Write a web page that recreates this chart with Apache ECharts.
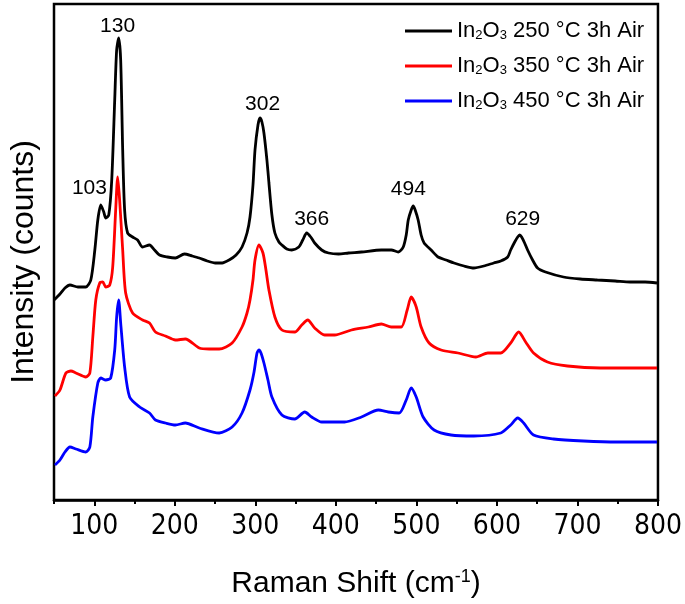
<!DOCTYPE html>
<html>
<head>
<meta charset="utf-8">
<script src="https://cdn.jsdelivr.net/npm/echarts@6/dist/echarts.min.js"></script>
<style>
html,body{margin:0;padding:0;background:#fff;}
#chart{width:685px;height:604px;}
</style>
</head>
<body>
<div id="chart"></div>
<script>
// ---- Data ----
const seriesNames = ['In2O3 250 °C 3h Air', 'In2O3 350 °C 3h Air', 'In2O3 450 °C 3h Air'];

const shift250 = [50,57.4,63.6,69.8,79.7,89.5,95.7,100.7,104.4,108.1,111.8,114.3,118,121.7,125.4,127.8,130.3,132.8,135.3,137.7,141.4,147.6,153.8,160,168.6,174.8,181,190.9,200.7,211.9,221.7,230.4,240.3,250.2,258.8,267.5,276.1,283.5,289.7,293.4,297.1,299.6,303.3,305.8,308.2,310.7,314.4,316.9,320.6,324.3,329.3,333,339.1,345.3,354,358.9,363.8,368.8,373.7,382.4,391,403.4,415.7,431.8,456.5,468.9,477.5,483.7,487.4,489.9,493.6,496.1,498.5,502.2,505.9,509.6,518.3,526.9,536.8,546.7,559.1,571.4,583.8,596.1,604.8,613.4,617.1,622.1,625.8,628.3,630.7,634.4,638.1,644.3,650.5,660.4,682.6,703.6,724.7,746.9,765.4,784,798.8];
const int250 = [200,206,212,215,213,213,220,250,280,295,288,282,285,320,400,450,462,440,350,290,267,263,260,253,255,250,245,243,242,246,244,242,239,237,237,240,245,253,267,283,315,350,375,382,378,367,340,317,285,267,258,255,251,250,253,260,267,263,257,250,247,246,247,248,250,250,248,253,265,280,290,294,290,280,265,257,250,243,240,237,234,232,234,237,239,243,250,258,263,265,263,257,250,240,232,228,223,221,220,219,218,218,217];

const shift350 = [51.2,57.4,64.8,71,77.2,89.5,94.5,98.2,101.9,106.8,110.5,114.3,119.2,122.9,126.6,129.1,131.5,135.3,139,147.6,160,168.6,176,188.4,200.7,213.1,230.4,242.7,255.1,271.2,283.5,289.7,293.4,297.1,299.6,304.5,309.5,313.2,316.9,324.3,333,349,357.7,365.1,373.7,386.1,398.4,419.4,440.4,456.5,468.9,481.2,488.6,493.6,499.8,505.9,515.8,530.7,551.7,573.9,588.7,604.8,617.1,627,635.7,645.5,662.8,687.6,728.4,769.1,798.8];
const int350 = [104,110,127,129,127,123,127,163,200,217,218,213,215,233,290,323,300,250,207,187,180,177,168,164,160,161,152,151,151,157,173,187,200,220,240,255,247,230,210,183,170,168,175,180,172,165,165,170,173,176,173,173,190,203,193,173,157,150,147,143,147,147,157,168,158,147,138,134,132,132,132];

const shift450 = [51.2,57.4,63.6,69.8,77.2,89.5,94.5,98.2,104.4,108.1,114.3,120.4,125.4,127.8,130.3,132.8,137.7,143.9,156.3,168.6,176,188.4,200.7,213.1,230.4,255.1,271.2,283.5,293.4,298.4,302.1,304.5,307,310.7,315.7,320.6,333,349,361.4,370,382.4,391,410.8,431.8,452.8,465.2,478.7,487.4,493.6,499.8,508.4,522,543,571.4,604.8,617.1,625.8,633.2,645.5,670.3,707.4,749.4,798.8];
const int450 = [35,40,48,53,51,48,53,83,117,122,120,122,150,183,200,177,133,103,93,87,80,77,75,77,72,67,73,87,110,128,147,150,147,137,120,103,85,81,88,83,78,78,78,83,90,88,87,100,112,103,83,70,65,64,67,75,82,77,65,61,59,58,58];

// peak annotations (label text, and label anchor in axis units)
const peakLabels = ['103', '130', '302', '366', '494', '629'];
const peakLabelShift = [94, 129, 309, 370, 490, 632];
const peakLabelInt = [312, 474, 396, 281, 311, 281];

// axis ticks
const majorTicks = [100, 200, 300, 400, 500, 600, 700, 800];
const minorTicks = [50, 150, 250, 350, 450, 550, 650, 750];
const xTitle = 'Raman Shift (cm{sup|-1})';
const yTitle = 'Intensity (counts)';

const colors = ['#000000', '#ff0000', '#0000ff'];

function zip(xs, ys) { return xs.map((x, i) => [x, ys[i]]); }

const chart = echarts.init(document.getElementById('chart'), null, {renderer: 'canvas'});
const baseFont = "'Liberation Sans', Arial, sans-serif";
const tickFont = "'Liberation Sans Narrow', 'Arial Narrow', 'DejaVu Sans Condensed', 'Liberation Sans', sans-serif";

const lineSeries = [zip(shift250, int250), zip(shift350, int350), zip(shift450, int450)].map((d, i) => ({
  name: seriesNames[i],
  type: 'line',
  data: d,
  symbol: 'none',
  smooth: 0.25,
  lineStyle: {color: colors[i], width: 2.8},
  itemStyle: {color: colors[i]},
  z: 3 - i
}));

chart.setOption({
  animation: false,
  backgroundColor: '#fff',
  grid: {left: 51, right: 27, top: 4, bottom: 104, show: true, borderColor: '#000', borderWidth: 2.5, backgroundColor: 'transparent'},
  legend: {
    orient: 'vertical',
    left: 400,
    top: 15,
    icon: 'rect',
    itemWidth: 47,
    itemHeight: 3,
    itemGap: 13,
    selectedMode: false,
    data: seriesNames,
    formatter: n => n.replace('In2O3', 'In{s|2}O{s|3}'),
    textStyle: {
      fontFamily: baseFont, fontSize: 22, color: '#000', lineHeight: 22,
      rich: {s: {fontFamily: baseFont, fontSize: 13, verticalAlign: 'bottom', lineHeight: 22, color: '#000'}}
    }
  },
  xAxis: [{
    type: 'value', min: 50, max: 800,
    position: 'bottom',
    axisLine: {show: true, lineStyle: {color: '#000', width: 2.5}},
    axisTick: {show: true, customValues: majorTicks, inside: false, length: 6, lineStyle: {color: '#000', width: 2}},
    axisLabel: {customValues: majorTicks, margin: 13, color: '#000', fontFamily: tickFont, fontSize: 28},
    splitLine: {show: false},
    name: xTitle,
    nameLocation: 'middle',
    nameGap: 68,
    nameTextStyle: {fontFamily: baseFont, fontSize: 30, color: '#000',
      rich: {sup: {fontFamily: baseFont, fontSize: 18, verticalAlign: 'top', color: '#000', padding: [0, 0, 14, 0]}}}
  }, {
    type: 'value', min: 50, max: 800,
    position: 'bottom',
    axisLine: {show: false},
    axisTick: {show: true, customValues: minorTicks, inside: false, length: 4, lineStyle: {color: '#000', width: 2}},
    axisLabel: {show: false},
    splitLine: {show: false}
  }],
  yAxis: {
    type: 'value', min: 0, max: 496,
    axisLine: {show: false}, axisTick: {show: false}, axisLabel: {show: false}, splitLine: {show: false},
    name: yTitle, nameLocation: 'middle', nameGap: 14,
    nameTextStyle: {fontFamily: baseFont, fontSize: 32, color: '#000', padding: [0, 0, 0, -20]}
  },
  series: lineSeries.concat([{
    type: 'scatter',
    data: peakLabels.map((t, i) => ({name: t, value: [peakLabelShift[i], peakLabelInt[i]]})),
    symbolSize: 0,
    silent: true,
    itemStyle: {opacity: 1, color: '#000'},
    label: {show: true, position: 'inside', formatter: p => p.name, fontFamily: baseFont, fontSize: 21, color: '#000', opacity: 1},
    z: 5
  }])
});
</script>
</body>
</html>
